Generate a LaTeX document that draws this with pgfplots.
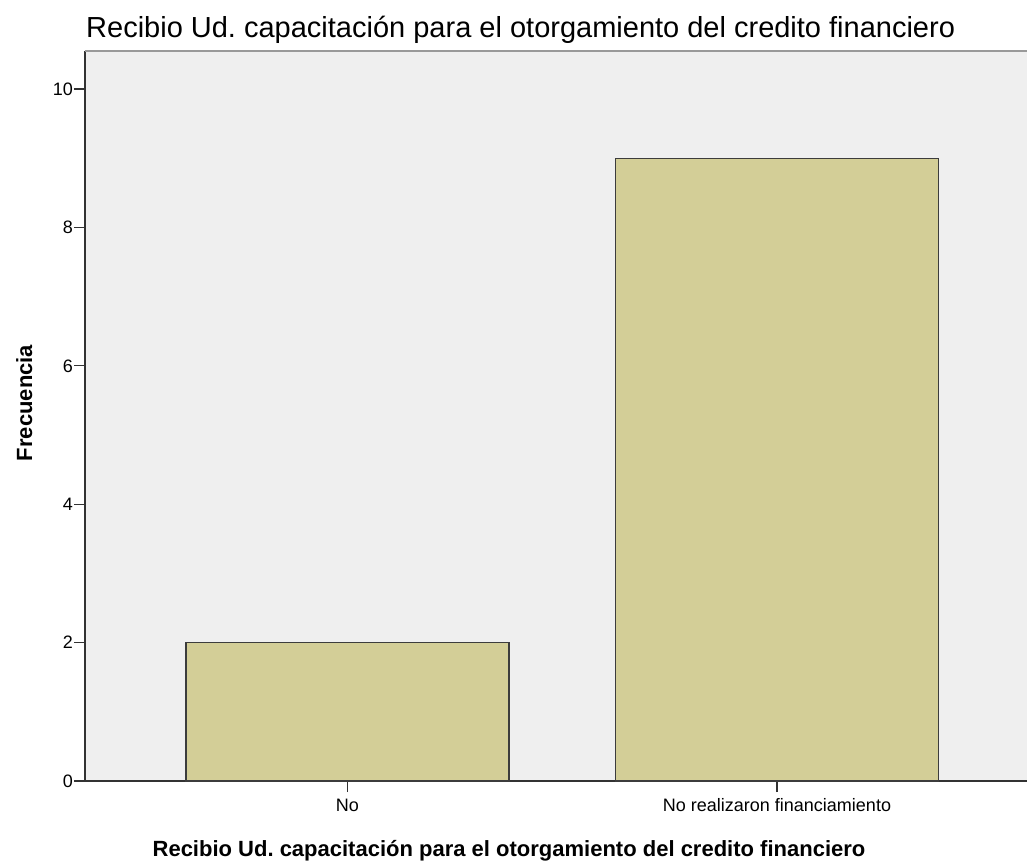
\documentclass[border=0pt]{standalone}
\usepackage{pgfplots}
\pgfplotsset{compat=1.18}
\usepackage{fontspec}
\setmainfont{Liberation Sans}
\frenchspacing
\definecolor{barfill}{RGB}{211,206,151}
\definecolor{bgplot}{RGB}{239,239,239}
\definecolor{baredge}{RGB}{60,60,60}
\definecolor{axline}{RGB}{50,50,50}
\begin{document}
\begin{tikzpicture}[x=1pt,y=1pt]
\path[use as bounding box] (0,0) rectangle (1027,863);
\begin{axis}[
  at={(85pt,82pt)}, anchor=south west,
  scale only axis, width=942pt, height=730pt,
  xmin=-0.611, xmax=1.582, ymin=0, ymax=10.55,
  axis lines*=left,
  axis line style={axline, line width=1.2pt},
  axis background/.style={fill=bgplot},
  xtick={0,1}, xticklabels={No, No realizaron financiamiento},
  ytick={0,2,4,6,8,10},
  tick align=outside, major tick length=11pt,
  tick style={axline, line width=1.2pt},
  /pgf/number format/assume math mode=true,
  ticklabel style={font=\fontsize{18}{18}\selectfont, text=black},
  xticklabel style={inner sep=0pt, yshift=-6pt, text height=13pt},
  yticklabel style={inner sep=0pt, xshift=-1pt},
  clip=false,
]
\addplot[ybar, bar width=0.752, fill=barfill, draw=baredge, line width=1.3pt]
  coordinates {(0,2) (1,9)};
\draw[gray!80, line width=1.5pt] (rel axis cs:0,1) -- (rel axis cs:1,1);
\end{axis}
\node[anchor=base west, inner sep=0pt, font=\fontsize{29}{29}\selectfont] at (86,825)
  {Recibio Ud. capacitación para el otorgamiento del credito financiero};
\node[anchor=base, inner sep=0pt, font=\bfseries\fontsize{22}{22}\selectfont] at (509,7)
  {Recibio Ud. capacitación para el otorgamiento del credito financiero};
\node[anchor=base, rotate=90, inner sep=0pt, font=\bfseries\fontsize{22}{22}\selectfont] at (32,460)
  {Frecuencia};
\end{tikzpicture}
\end{document}
